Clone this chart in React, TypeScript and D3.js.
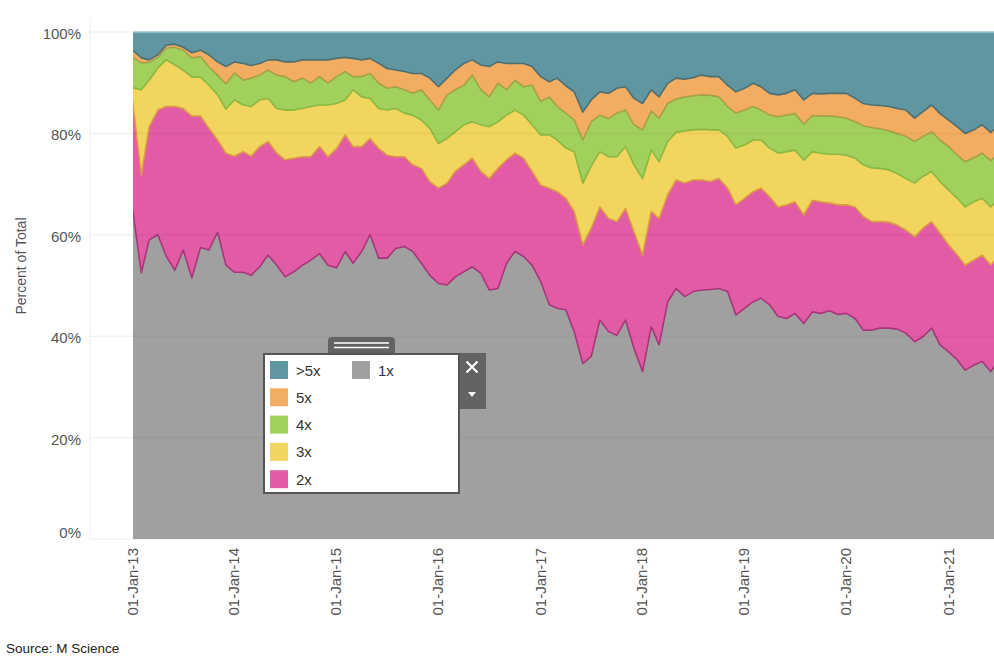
import React from 'react';
import * as d3 from 'd3';

// Series keys, bottom to top
const seriesKeys = ['1x', '2x', '3x', '4x', '5x', '>5x'];
const legendLabels = ['>5x', '5x', '4x', '3x', '2x'];
const yTicks = [0, 20, 40, 60, 80, 100];
const tickYears = [2013, 2014, 2015, 2016, 2017, 2018, 2019, 2020, 2021];
const tickLabels = ['01-Jan-13', '01-Jan-14', '01-Jan-15', '01-Jan-16', '01-Jan-17', '01-Jan-18', '01-Jan-19', '01-Jan-20', '01-Jan-21'];

// Monthly shares (% of total), Jan 2013 onward
const share1x = [64.9, 52.5, 59, 60, 55.8, 53, 57, 51.5, 57.5, 57, 60.5, 54, 52.6, 52.6, 52, 53.7, 56, 54, 51.7, 52.7, 54, 55, 56.3, 54, 53.5, 56.7, 54.4, 56.7, 60, 55.4, 55.4, 57.3, 57.7, 56.7, 54.4, 52, 50.4, 50.1, 51.7, 52.7, 53.7, 52.4, 49.1, 49.4, 54.4, 56.7, 55.7, 54, 50.8, 46.2, 45.5, 45.2, 40.9, 34.6, 36, 43.2, 40.9, 40.2, 43.2, 37.6, 33, 41.9, 38.3, 46.8, 49.4, 47.8, 48.8, 49.1, 49.2, 49.4, 48.8, 44.2, 45.5, 46.8, 47.5, 46.2, 43.9, 43.5, 44.5, 42.5, 44.8, 44.5, 45, 44.3, 44.5, 43.5, 41.2, 41.2, 41.6, 41.6, 41.4, 40.6, 38.9, 39.9, 41.6, 38.3, 36.9, 35.3, 33.3, 34.3, 35, 33, 35.6];
const share2x = [21.3, 19.3, 22.3, 24.6, 29.5, 32.3, 27.9, 31.9, 25.9, 24, 18.2, 22.1, 22.9, 23.8, 23.5, 23.7, 22.4, 22.1, 23.1, 22.4, 21.4, 20.4, 21.1, 21.4, 23.5, 23, 23, 20.7, 19, 21.6, 20.3, 18.1, 17.7, 17.1, 18.7, 18.5, 18.8, 20.1, 20.8, 21.1, 21.4, 20.1, 22, 23.7, 20.4, 19.4, 19.4, 18.5, 19, 23, 23, 22, 23.7, 23.4, 25.3, 22.3, 22.3, 22.4, 22, 23, 23, 22.7, 24.9, 21.1, 21.4, 22.4, 22, 21.7, 21.3, 21.7, 20.4, 21.7, 21.7, 21.7, 21.7, 21.3, 21.6, 22.4, 22, 21.4, 22, 22, 21.3, 21.6, 21.4, 22, 22.4, 21.4, 21, 20.9, 20.5, 20.3, 20.7, 21.4, 21, 22, 21.1, 20.7, 20.7, 20.7, 21, 21, 20.4];
const share3x = [2.8, 16.8, 9.2, 8.3, 9.2, 8.2, 7.6, 7.7, 7.7, 8.5, 8.9, 8.7, 11.1, 9.2, 9.8, 9.2, 8.5, 8.8, 9.8, 9.5, 9.5, 9.9, 8.2, 10.2, 8.9, 6.9, 11.2, 9.8, 7.9, 7.9, 8.9, 9.5, 8.6, 9.8, 9.5, 10.5, 8.8, 8.8, 7.8, 7.9, 7.2, 9.2, 10.2, 9.2, 8.8, 8.5, 8.5, 9.2, 9.9, 10.5, 10.2, 9.9, 11.8, 12.2, 12.3, 10.9, 12.2, 12.8, 12.2, 13.2, 15.1, 12.1, 11.2, 10.5, 9.4, 10.3, 9.9, 10, 10.2, 9.6, 10.2, 11.2, 10.5, 10.2, 9.5, 9.6, 10.6, 10.5, 10.2, 10.8, 9.6, 9.6, 9.6, 10, 9.8, 9.6, 10.2, 10.6, 10.5, 10.3, 10.2, 10.2, 10.6, 10.2, 9.9, 10.2, 10.8, 11.2, 11.5, 11.5, 11.2, 11.5, 11.2];
const share4x = [6, 5.3, 3.5, 2.1, 2.3, 3.5, 3.9, 3.8, 4, 3.6, 3.9, 5, 5.3, 4.9, 5.6, 4.9, 5.6, 6.6, 6.6, 5.6, 6, 4.6, 5.6, 4.3, 5.3, 5.6, 2.6, 4, 4.9, 5, 4.3, 4.3, 4.6, 4.3, 6, 5.6, 6.6, 8.6, 8.3, 7.8, 9.2, 6.9, 5.9, 7.6, 5, 5.9, 5.6, 7.8, 6.6, 7.5, 6.6, 6.9, 6.2, 8.5, 8.7, 7.2, 7.5, 8.6, 7.2, 7.9, 9.6, 7.7, 8.6, 7.5, 6.6, 6.7, 6.7, 6.8, 6.8, 6.5, 5.9, 6.9, 6.9, 6.6, 5.9, 6.5, 7.2, 7.2, 7.2, 7.1, 7.1, 7.3, 7.5, 7.4, 7.3, 7.2, 7.7, 7.9, 7.8, 7.7, 7.9, 8.3, 8.2, 7.9, 7.8, 8.2, 8.6, 8.5, 8.9, 8.7, 8.9, 9.1, 8.9];
const share5x = [1.4, 1, 0.5, 0.5, 0.6, 0.6, 0.6, 1, 1.3, 2.4, 2.6, 3.4, 2.2, 3.3, 2.5, 2.3, 2, 3, 2.9, 3.9, 3.6, 4.6, 3.3, 4.6, 3.6, 2.8, 3.6, 3.3, 3, 3.9, 3.9, 3.3, 3.6, 3.9, 3.2, 4.3, 4.6, 3.3, 3.9, 4.3, 3, 4.9, 6, 4.2, 5.2, 3.3, 4.6, 3.7, 4.9, 3, 5.6, 5.4, 5.6, 5.5, 4.3, 4.6, 5, 4.9, 4.6, 5.2, 5.2, 4.2, 4.2, 4, 4.1, 3.5, 3.6, 3.9, 3.7, 4, 4.2, 4.2, 4.3, 4.6, 4.6, 4.3, 4.3, 4.3, 4.7, 4.8, 4.4, 4.4, 4.5, 4.6, 4.9, 4.6, 4.4, 4.5, 4.6, 4.8, 4.9, 5.2, 4.6, 4.9, 5.3, 5.2, 5.2, 5.6, 5.6, 5.5, 5.6, 5.6, 5.6];
const shareOver5x = [3.6, 5.1, 5.5, 4.5, 2.6, 2.4, 3, 4.1, 3.6, 4.5, 5.9, 6.8, 5.9, 6.2, 6.6, 6.2, 5.5, 5.5, 5.9, 5.9, 5.5, 5.5, 5.5, 5.5, 5.2, 5, 5.2, 5.5, 5.2, 6.2, 7.2, 7.5, 7.8, 8.2, 8.2, 9.1, 10.8, 9.1, 7.5, 6.2, 5.5, 6.5, 6.8, 5.9, 6.2, 6.2, 6.2, 6.8, 8.8, 9.8, 9.1, 10.6, 11.8, 15.8, 13.4, 11.8, 12.1, 11.1, 10.8, 13.1, 14.1, 11.4, 12.8, 10.1, 9.1, 9.3, 9, 8.5, 8.8, 8.8, 10.5, 11.8, 11.1, 10.1, 10.8, 12.1, 12.4, 12.1, 11.4, 13.4, 12.1, 12.2, 12.1, 12.1, 12.1, 13.1, 14.1, 14.4, 14.5, 14.7, 15.1, 15.4, 17, 15.7, 14.4, 16.1, 17.4, 18.7, 20, 19.3, 18.3, 19.8, 18.3];

const fillColors: Record<string, string> = {
  '1x': '#a0a0a0',
  '2x': '#e25ca5',
  '3x': '#f2d55e',
  '4x': '#a2d05c',
  '5x': '#f3ad62',
  '>5x': '#5f96a2',
};
const lineColors: Record<string, string> = {
  '1x': '#a8357a',
  '2x': '#dc9a45',
  '3x': '#8ab83e',
  '4x': '#a4a04a',
  '5x': '#4e6f6e',
};

const FONT = "Arial, 'Liberation Sans', Helvetica, sans-serif";

export default function App() {
  const W = 994;
  const H = 660;
  const left = 133;
  const right = 994;
  const top = 32;
  const bottom = 539;

  const dates = share1x.map((_, i) => new Date(2013, i, 7));
  const rows = dates.map((date, i) => ({
    date,
    '1x': share1x[i],
    '2x': share2x[i],
    '3x': share3x[i],
    '4x': share4x[i],
    '5x': share5x[i],
    '>5x': shareOver5x[i],
  }));

  const x = d3.scaleTime().domain([new Date(2013, 0, 1), new Date(2021, 0, 1)]).range([131, 947]);
  const y = d3.scaleLinear().domain([0, 100]).range([bottom, top]);

  const stacked = d3.stack<any>().keys(seriesKeys)(rows);
  const area = d3.area<any>()
    .x((d) => x(d.data.date))
    .y0((d) => y(d[0]))
    .y1((d) => y(d[1]));
  const topLine = d3.line<any>()
    .x((d) => x(d.data.date))
    .y((d) => y(d[1]));

  const legendRows = legendLabels.map((k, i) => ({ k, i }));

  return (
    <svg width={W} height={H} style={{ position: 'absolute', left: 0, top: 0, background: '#fff' }} fontFamily={FONT}>
      <defs>
        <clipPath id="plotClip">
          <rect x={left} y={top - 1} width={right - left} height={bottom - top + 1} />
        </clipPath>
      </defs>
      <rect x={0} y={0} width={W} height={H} fill="#fff" />

      {/* faint axis line and gridlines */}
      <line x1={90} x2={90} y1={18} y2={bottom} stroke="#f0f0f0" strokeWidth={1} />
      {yTicks.map((t) => (
        <line key={'g' + t} x1={90} x2={right} y1={y(t)} y2={y(t)} stroke="#ececec" strokeWidth={1} />
      ))}

      <g clipPath="url(#plotClip)">
        {stacked.map((s) => (
          <path key={s.key} d={area(s) || ''} fill={fillColors[s.key]} />
        ))}
        {stacked.slice(0, 5).map((s) => (
          <path key={'l' + s.key} d={topLine(s) || ''} fill="none" stroke={lineColors[s.key]} strokeWidth={1.6} strokeLinejoin="round" />
        ))}
        {yTicks.filter((t) => t > 0 && t < 100).map((t) => (
          <line key={'gi' + t} x1={left} x2={right} y1={y(t)} y2={y(t)} stroke="rgba(0,0,0,0.035)" strokeWidth={2} />
        ))}
        <line x1={left} x2={right} y1={y(100)} y2={y(100)} stroke="#9fc8cf" strokeWidth={1.5} />
      </g>

      {/* y tick labels */}
      {yTicks.map((t) => (
        <text key={'yl' + t} x={81} y={t === 0 ? 532 : y(t) + 1.5} textAnchor="end" dominantBaseline="central" fontSize={15} fill="#555">
          {t + '%'}
        </text>
      ))}

      {/* y axis title */}
      <text transform={`translate(21,266) rotate(-90)`} textAnchor="middle" dominantBaseline="central" fontSize={14} fill="#555">
        Percent of Total
      </text>

      {/* x tick labels */}
      {tickYears.map((yr, i) => (
        <text key={'xl' + yr} transform={`translate(${x(new Date(yr, 0, 1)) + 1},548) rotate(-90)`} textAnchor="end" dominantBaseline="central" fontSize={15} fill="#555">
          {tickLabels[i]}
        </text>
      ))}

      {/* source */}
      <text x={6} y={653} fontSize={13.5} fill="#222">Source: M Science</text>

      {/* legend widget */}
      <g>
        <path d="M328,355 L328,341 Q328,337 332,337 L391,337 Q395,337 395,341 L395,355 Z" fill="#636363" />
        <line x1={334} x2={389} y1={343} y2={343} stroke="#fff" strokeWidth={1.5} />
        <line x1={334} x2={389} y1={347.5} y2={347.5} stroke="#fff" strokeWidth={1.5} />
        <rect x={458} y={353} width={28} height={56} fill="#636363" />
        <path d="M466.5,361.5 L477.5,372.5 M477.5,361.5 L466.5,372.5" stroke="#fff" strokeWidth={2} />
        <path d="M468,392 L476,392 L472,397 Z" fill="#fff" />
        <rect x={264} y={354} width={195} height={139} fill="#fff" stroke="#555" strokeWidth={2} />
        {legendRows.map(({ k, i }) => (
          <g key={'lg' + k}>
            <rect x={270} y={361 + i * 27.3} width={18} height={18} fill={fillColors[k]} />
            <text x={296} y={370 + i * 27.3} dominantBaseline="central" fontSize={15} fill="#333">{k}</text>
          </g>
        ))}
        <rect x={352} y={361} width={18} height={18} fill={fillColors['1x']} />
        <text x={378} y={370} dominantBaseline="central" fontSize={15} fill="#333">1x</text>
      </g>
    </svg>
  );
}
